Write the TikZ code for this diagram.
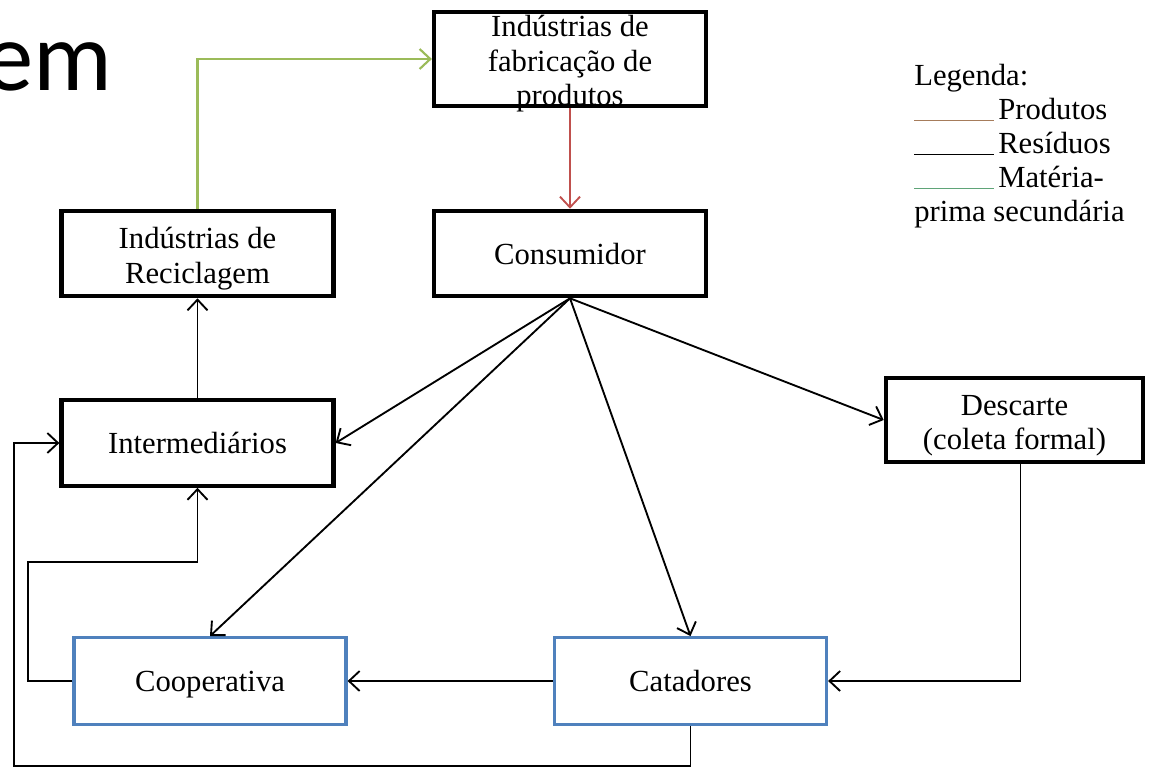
\documentclass[tikz,border=0pt]{standalone}
\usepackage{fontspec}
\setmainfont{Liberation Serif}
\newfontfamily\titlefont{Carlito}
\usepackage{xcolor}
\usetikzlibrary{arrows.meta}

\definecolor{boxblue}{HTML}{4F81BD}
\definecolor{prodred}{HTML}{C0504D}
\definecolor{msgreen}{HTML}{9BBB59}
\definecolor{lgbrown}{HTML}{A67C5B}
\definecolor{lggreen}{HTML}{5FA478}

\newcommand{\lgline}[1]{{\color{#1}\rule[-1pt]{60pt}{1pt}}\hspace{3pt}}

\begin{document}
\begin{tikzpicture}[
  x=0.75pt, y=-0.75pt,
  box/.style={draw, line width=3.2pt, minimum width=204pt, minimum height=64pt, align=center, inner sep=2pt, text depth=0pt, font=\fontsize{23}{26}\selectfont},
  onebox/.style={box, text height=16pt},
  bluebox/.style={onebox, draw=boxblue, line width=2.4pt, minimum height=65pt},
  arrow/.style={-{Straight Barb[length=8pt,width=15pt]}, line width=1.4pt},
  redarrow/.style={arrow, prodred},
  greenarrow/.style={arrow, msgreen, line width=1.6pt}
]
  \useasboundingbox (0,0) rectangle (1153,769);

  \node[anchor=base east, inner sep=0, font=\titlefont\fontsize{74}{80}\selectfont] (title) at (113,90) {em};

  \node[box, minimum height=70.5pt, inner ysep=0pt, text height=70pt] (fab) at (570,59) {Indústrias de\\fabricação de\\produtos};
  \node[onebox] (cons) at (570,253.5) {Consumidor};
  \node[box, text height=45pt] (recic) at (197.5,253.5) {Indústrias de\\Reciclagem};
  \node[onebox] (inter) at (197.5,443) {Intermediários};
  \node[box, minimum width=193pt, minimum height=63pt, text height=44.5pt] (desc) at (1014.5,420) {Descarte\\(coleta formal)};
  \node[bluebox] (coop) at (210,681) {Cooperativa};
  \node[bluebox] (cat) at (690.5,681) {Catadores};

  \node[anchor=north west, align=left, inner sep=0, font=\fontsize{23}{25.5}\selectfont] (legenda) at (914,64)
    {Legenda:\\
     \lgline{lgbrown}Produtos\\
     \lgline{black}Resíduos\\
     \lgline{lggreen}Matéria-\\
     prima secundária};

  \coordinate (c1) at (28,562);
  \coordinate (c2) at (14,766);

  \draw[greenarrow] (recic.north) |- (fab.west);
  \draw[redarrow] (fab.south) -- (cons.north);

  \draw[arrow] (cons.south) -- (inter.east);
  \draw[arrow] (cons.south) -- (coop.north);
  \draw[arrow] (cons.south) -- (cat.north);
  \draw[arrow] (cons.south) -- (desc.west);

  \draw[arrow] (inter.north) -- (recic.south);
  \draw[arrow] (coop.west) -| (c1) -| (inter.south);
  \draw[arrow] (cat.west) -- (coop.east);
  \draw[arrow] ([xshift=4.5pt]desc.south) |- (cat.east);
  \draw[arrow] (cat.south) |- (c2) |- (inter.west);
\end{tikzpicture}
\end{document}
